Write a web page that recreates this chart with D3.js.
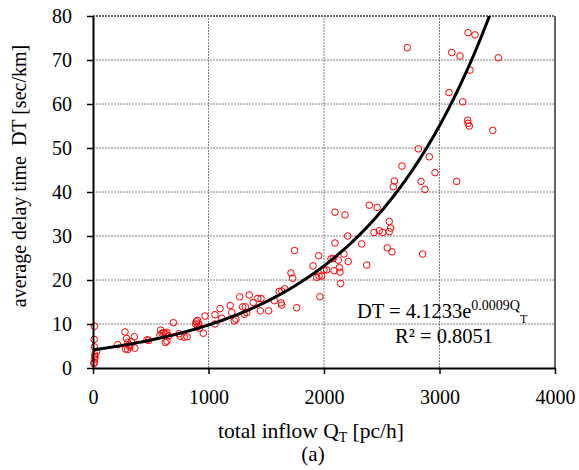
<!DOCTYPE html>
<html lang="en">
<head>
<meta charset="UTF-8" />
<title>Delay time vs total inflow</title>
<script src="https://d3js.org/d3.v7.min.js"></script>
<style>
  * { margin: 0; padding: 0; }
  body { background: #fff; }
  svg, svg text { font-family: "Liberation Serif", "Times New Roman", Times, "DejaVu Serif", serif !important; }
</style>
</head>
<body>
<svg width="579" height="470"></svg>
<script>
// observed points: total inflow Q_T [pc/h] and delay time DT [sec/km]
var inflow = [
  12, 10, 12, 30, 15, 18, 15, 10, 8,
  214, 277, 290, 300, 310, 282, 300, 318, 332, 358, 362, 468, 482, 586, 597, 612, 628, 640,
  580, 626, 640, 655, 696, 745, 755, 790, 815, 888, 895, 905, 915, 905, 922, 955, 970,
  1056, 1056, 1100, 1114, 1188, 1201, 1223, 1238, 1270, 1296, 1319, 1310, 1331, 1353, 1388,
  1426, 1455, 1449, 1521, 1570, 1612, 1634, 1628, 1634, 1660, 1714, 1729, 1745, 1764,
  1905, 1937, 1957, 1980, 1954, 1965,
  2000, 2023, 2061, 2081, 2087, 2124, 2133, 2138, 2144, 2173, 2210, 2095, 2095, 2182, 2205,
  2326, 2370, 2392, 2460, 2433, 2479, 2508, 2565, 2577, 2565, 2548, 2588, 2600, 2609,
  2675, 2721, 2817, 2840, 2874, 2854, 2912, 2961,
  3082, 3106, 3149, 3178, 3201, 3247, 3307, 3264, 3244, 3247, 3258, 3461, 3509
];
var delay = [
  9.5, 6.5, 4.8, 3.7, 3.0, 2.6, 2.0, 1.3, 1.0,
  5.3, 8.2, 6.7, 5.8, 5.2, 4.3, 4.2, 4.8, 6.0, 7.1, 4.5, 6.4, 6.3, 8.6, 7.9, 8.0, 7.8, 8.1,
  7.5, 5.8, 6.1, 7.3, 10.3, 7.8, 7.2, 7.0, 7.1, 10.0, 10.5, 10.8, 10.0, 9.4, 9.0, 7.9, 11.8,
  12.1, 10.0, 13.5, 11.3, 14.2, 12.6, 10.7, 11.1, 16.2, 13.9, 13.9, 12.2, 12.6, 16.6, 14.9,
  15.8, 15.8, 13.0, 13.0, 15.3, 17.4, 17.5, 14.8, 14.3, 18.0, 21.6, 20.4, 26.7, 13.7,
  23.2, 20.6, 20.9, 20.9, 25.5, 16.2,
  22.3, 22.3, 24.8, 24.9, 22.1, 24.5, 22.8, 21.8, 19.2, 25.9, 24.2, 28.4, 35.4, 34.8, 30.0,
  28.2, 23.4, 37.0, 36.5, 30.8, 31.2, 30.8, 31.0, 31.8, 33.3, 27.3, 26.4, 41.2, 42.5,
  45.9, 72.8, 49.8, 42.4, 40.6, 25.9, 48.0, 44.4,
  62.6, 71.7, 42.4, 70.9, 60.5, 76.2, 75.7, 67.7, 56.3, 55.6, 55.0, 54.0, 70.5
];

// axis ticks
var xTicks = [0, 1000, 2000, 3000, 4000];
var yTicks = [0, 10, 20, 30, 40, 50, 60, 70, 80];

// fitted trend DT = a * exp(b * Q_T)
var trendA = 4.1233;
var trendB = 0.000864;

var serif = "'Liberation Serif', 'Times New Roman', serif";
var svg = d3.select("svg");

var x = d3.scaleLinear().domain([0, 4000]).range([93, 555]);
var y = d3.scaleLinear().domain([0, 80]).range([368, 16]);

// gridlines
svg.append("g")
  .selectAll("line")
  .data(yTicks.filter(function(d) { return d > 0; }))
  .enter()
  .append("line")
  .attr("x1", x(0)).attr("x2", x(4000))
  .attr("y1", function(d) { return y(d); })
  .attr("y2", function(d) { return y(d); })
  .attr("stroke", function(d) { return d == 80 ? "#666" : "#808080"; })
  .attr("stroke-width", function(d) { return d == 80 ? 2 : 1; })
  .attr("stroke-dasharray", "2,1");

svg.append("g")
  .selectAll("line")
  .data(xTicks.filter(function(d) { return d > 0 && d < 4000; }))
  .enter()
  .append("line")
  .attr("y1", y(0)).attr("y2", y(80))
  .attr("x1", function(d) { return x(d); })
  .attr("x2", function(d) { return x(d); })
  .attr("stroke", "#808080")
  .attr("stroke-dasharray", "2,1");

// right border
svg.append("line")
  .attr("x1", x(4000)).attr("x2", x(4000))
  .attr("y1", y(0)).attr("y2", y(80))
  .attr("stroke", "#333")
  .attr("stroke-width", 1.5);

// points
svg.append("g")
  .selectAll("circle")
  .data(inflow)
  .enter()
  .append("circle")
  .attr("cx", function(d) { return x(d); })
  .attr("cy", function(d, i) { return y(delay[i]); })
  .attr("r", 3.3)
  .attr("fill", "none")
  .attr("stroke", "red")
  .attr("stroke-width", 1);

// trend curve
svg.append("clipPath").attr("id", "plot")
  .append("rect")
  .attr("x", x(0)).attr("y", y(80))
  .attr("width", x(4000) - x(0)).attr("height", y(0) - y(80));

var curveX = d3.range(0, 3600, 20);
svg.append("path")
  .datum(curveX)
  .attr("clip-path", "url(#plot)")
  .attr("fill", "none")
  .attr("stroke", "#000")
  .attr("stroke-width", 3)
  .attr("d", d3.line()
    .x(function(d) { return x(d); })
    .y(function(d) { return y(trendA * Math.exp(trendB * d)); }));

// axes
var xAxis = svg.append("g")
  .attr("transform", "translate(0," + y(0) + ")")
  .call(d3.axisBottom(x).tickValues(xTicks).tickFormat(d3.format("d"))
    .tickSize(6).tickSizeOuter(0).tickPadding(16));

var yAxis = svg.append("g")
  .attr("transform", "translate(" + x(0) + ",0)")
  .call(d3.axisLeft(y).tickValues(yTicks).tickFormat(d3.format("d"))
    .tickSize(6).tickSizeOuter(0).tickPadding(15));

[xAxis, yAxis].forEach(function(g) {
  g.attr("font-family", serif).attr("font-size", 20);
  g.select(".domain").attr("stroke", "#000").attr("stroke-width", 2);
  g.selectAll(".tick line").attr("stroke", "#000").attr("stroke-width", 1.5);
  g.selectAll(".tick text").attr("fill", "#000");
});

// axis titles
var xTitle = svg.append("text")
  .attr("x", 311)
  .attr("y", 438)
  .attr("text-anchor", "middle")
  .attr("font-family", serif)
  .attr("font-size", "21.5px");
xTitle.append("tspan").text("total inflow Q");
xTitle.append("tspan").attr("font-size", "14px").attr("dy", 4).text("T");
xTitle.append("tspan").attr("dy", -4).text(" [pc/h]");

svg.append("text")
  .attr("x", 313)
  .attr("y", 461)
  .attr("text-anchor", "middle")
  .attr("font-family", serif)
  .attr("font-size", "21px")
  .text("(a)");

svg.append("text")
  .attr("transform", "translate(26,176) rotate(-90)")
  .attr("text-anchor", "middle")
  .attr("font-family", serif)
  .attr("font-size", "20px")
  .style("white-space", "pre")
  .text("average delay time  DT [sec/km]");

// equation
var eq = svg.append("text")
  .attr("x", 357)
  .attr("y", 318)
  .attr("font-family", serif)
  .attr("font-size", "20.5px");
eq.append("tspan").text("DT = 4.1233e");
eq.append("tspan").attr("font-size", "14px").attr("dy", -8).text("0.0009Q");
eq.append("tspan").attr("font-size", "12px").attr("dy", 13).text("T");

svg.append("text")
  .attr("x", 395)
  .attr("y", 343)
  .attr("font-family", serif)
  .attr("font-size", "20.5px")
  .text("R² = 0.8051");
</script>
</body>
</html>
